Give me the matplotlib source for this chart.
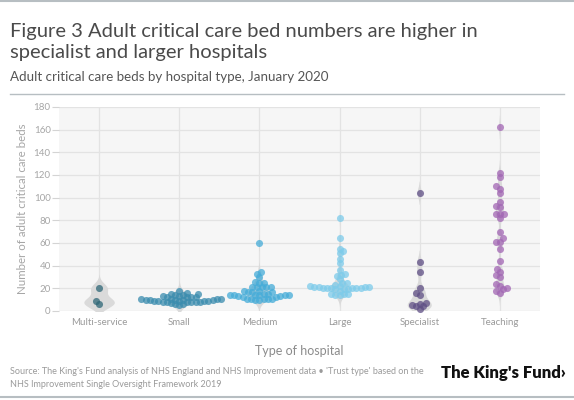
import numpy as np
import matplotlib
matplotlib.use('Agg')
import matplotlib.pyplot as plt
from matplotlib.lines import Line2D

# ---------------- data ----------------
categories = ['Multi-service', 'Small', 'Medium', 'Large', 'Specialist', 'Teaching']
multi_service = [20, 9, 6]
small = [18, 16, 15, 15, 14, 14, 13, 13, 12, 12, 12, 12, 11, 11, 11, 11, 10, 10,
         10, 10, 10, 9, 9, 9, 9, 9, 8, 8, 8, 8, 8, 8, 7, 6, 6, 5]
medium = [60, 34, 33, 30, 26, 25, 25, 21, 21, 21, 21, 21, 18, 18, 17, 17, 17, 15,
          15, 14, 14, 14, 14, 14, 14, 13, 13, 12, 12, 11, 11, 11, 11, 11, 10, 10]
large = [82, 64, 55, 53, 51, 46, 42, 36, 33, 32, 31, 28, 25, 25, 23, 22, 22, 21,
         21, 21, 21, 20, 20, 20, 20, 20, 20, 19, 19, 19, 18, 15, 15, 15, 14, 14]
specialist = [104, 43, 34, 20, 16, 14, 7, 2, 4, 4, 6, 5]
teaching = [162, 122, 118, 110, 108, 104, 96, 93, 92, 86, 86, 86, 82, 70, 64, 61,
            61, 55, 44, 37, 34, 32, 30, 24, 22, 20, 19, 18, 16]
groups = [multi_service, small, medium, large, specialist, teaching]
y_ticks = [0, 20, 40, 60, 80, 100, 120, 140, 160, 180]

colors = ['#2e6676', '#3a8cae', '#45acd8', '#7dcbea', '#5f4f85', '#a266b4']
violin_halfwidth = [0.19, 0.15, 0.15, 0.12, 0.15, 0.06]

# ---------------- figure ----------------
W, H = 574, 400
fig = plt.figure(figsize=(W / 100, H / 100), dpi=100)
plt.rcParams['font.family'] = ['Lato', 'DejaVu Sans']


def fx(px):
    return px / W


def fy(py):
    return 1 - py / H


left, right, top, bottom = 59, 540, 107, 311
ax = fig.add_axes([fx(left), fy(bottom), fx(right) - fx(left), fy(top) - fy(bottom)])
ax.set_xlim(-0.5, 5.5)
ax.set_ylim(0, 180)
ax.set_facecolor('#f6f6f6')
for s in ax.spines.values():
    s.set_visible(False)
ax.set_yticks(y_ticks)
ax.set_yticklabels([str(t) for t in y_ticks])
ax.set_xticks(range(len(categories)))
ax.set_xticklabels(categories)
ax.tick_params(axis='y', length=5, color='#d4d4d4', labelsize=7, labelcolor='#a6a6a6', pad=1)
ax.tick_params(axis='x', length=0, labelsize=7, labelcolor='#9a9a9a', pad=5)
ax.grid(True, color='#e3e3e3', linewidth=0.9)
ax.set_axisbelow(True)

ppu_x = (right - left) / 6.0
ppu_y = (bottom - top) / 180.0


def kde(vals, grid, bw):
    v = np.asarray(vals, dtype=float)[:, None]
    return np.exp(-0.5 * ((grid[None, :] - v) / bw) ** 2).sum(0)


def swarm(values, d=4.3):
    vals = np.asarray(values, dtype=float)
    order = np.argsort(vals, kind='stable')
    placed = []
    offs = np.zeros(len(vals))
    for k, i in enumerate(order):
        y = vals[i] * ppu_y
        sign = 1 if k % 2 == 0 else -1
        cands = [0.0]
        for (xj, yj) in placed:
            dy = abs(y - yj)
            if dy < d:
                h = np.sqrt(d * d - dy * dy)
                cands += [xj + h, xj - h]
        cands.sort(key=lambda c: (round(abs(c), 6), -sign * c))
        for c in cands:
            ok = all((c - xj) ** 2 + (y - yj) ** 2 >= d * d - 1e-6 for xj, yj in placed)
            if ok:
                offs[i] = c
                placed.append((c, y))
                break
    return offs / ppu_x


bw = 4.5
for i, vals in enumerate(groups):
    lo = max(0.0, min(vals) - 3 * bw)
    hi = max(vals) + 3 * bw
    grid = np.linspace(lo - 3, hi, 400)
    dens = kde(vals, grid, bw)
    dens = dens / dens.max()
    w = dens * violin_halfwidth[i]
    ax.fill_betweenx(grid, i - w, i + w, where=dens > 0.012, color='#dadada',
                     linewidth=0, zorder=2)
    offs = swarm(vals)
    ax.scatter(i + offs, vals, s=26, color=colors[i], alpha=0.75, linewidths=0,
               zorder=3, clip_on=False)

ax.set_ylabel('Number of adult critical care beds', fontsize=8.3, color='#a6a6a6', labelpad=4)
ax.set_xlabel('Type of hospital', fontsize=9, color='#8c8c8c', labelpad=13)

# ---------------- header / footer ----------------
fig.add_artist(Line2D([0, 1], [fy(1), fy(1)], color='#b7bec2', linewidth=1.5))
fig.add_artist(Line2D([fx(10), fx(564)], [fy(94), fy(94)], color='#b7bec2', linewidth=1.0))
fig.add_artist(Line2D([0, 1], [fy(397), fy(397)], color='#b7bec2', linewidth=1.5))

fig.text(fx(10), fy(37), 'Figure 3 Adult critical care bed numbers are higher in',
         fontsize=14.5, color='#4a4a4a', va='baseline', ha='left')
fig.text(fx(10), fy(58), 'specialist and larger hospitals',
         fontsize=14.5, color='#4a4a4a', va='baseline', ha='left')
fig.text(fx(10), fy(81), 'Adult critical care beds by hospital type, January 2020',
         fontsize=9.6, color='#555555', va='baseline', ha='left')

fig.text(fx(10), fy(374), "Source: The King's Fund analysis of NHS England and NHS Improvement data \u2022 'Trust type' based on the",
         fontsize=6.5, color='#9a9a9a', va='baseline', ha='left')
fig.text(fx(10), fy(387), 'NHS Improvement Single Oversight Framework 2019',
         fontsize=6.5, color='#9a9a9a', va='baseline', ha='left')
fig.text(fx(566), fy(378), "The King's Fund\u203a", fontsize=12, fontweight='heavy',
         color='#111111', va='baseline', ha='right')

fig.savefig('out.png', dpi=100)
